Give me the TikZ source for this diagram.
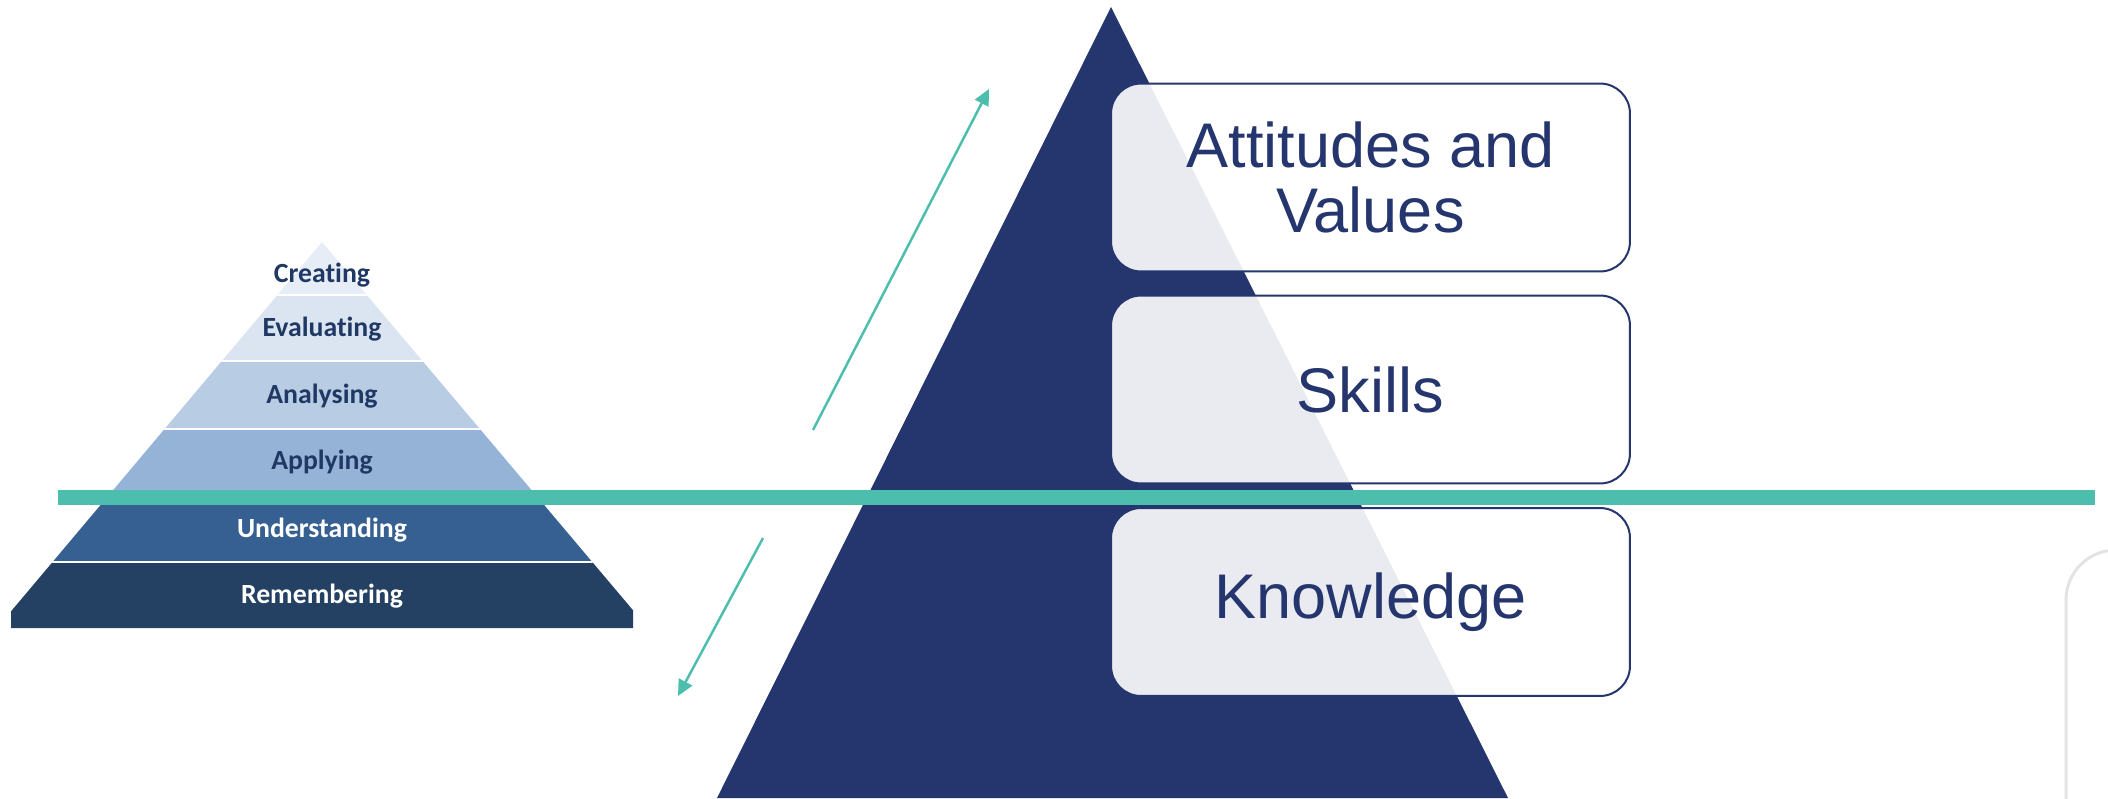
\documentclass[tikz,border=0pt]{standalone}
\usepackage{fontspec}
\setmainfont{Liberation Sans}
\newfontfamily\bloomfont[Ligatures=CommonOff]{Carlito}
\usetikzlibrary{arrows.meta}

\definecolor{navy}{RGB}{37,53,110}
\definecolor{bandteal}{RGB}{77,190,174}
\definecolor{bloomtext}{RGB}{31,56,100}
\definecolor{bloomA}{RGB}{231,237,246}
\definecolor{bloomB}{RGB}{219,229,241}
\definecolor{bloomC}{RGB}{184,204,228}
\definecolor{bloomD}{RGB}{149,179,215}
\definecolor{bloomE}{RGB}{55,96,146}
\definecolor{bloomF}{RGB}{36,64,98}
\definecolor{framegray}{RGB}{227,227,227}

\begin{document}
\begin{tikzpicture}[
        x=0.02cm, y=-0.02cm,
        box/.style={draw=navy, line width=0.04cm, rounded corners=0.6cm,
            fill=white, fill opacity=0.9, text opacity=1, text=navy,
            minimum width=10.38cm, minimum height=3.76cm, inner sep=0pt,
            align=center, font=\fontsize{35.9}{37}\selectfont},
        level/.style={anchor=base, inner sep=0pt,
            font=\bloomfont\bfseries\fontsize{15.8}{18}\selectfont},
        flow/.style={draw=bandteal, line width=0.05cm,
            -{Triangle[length=0.32cm,width=0.3cm]}}]

    \useasboundingbox (0,0) rectangle (2108,798);
    \clip (0,0) rectangle (2108,798);

    % small pyramid
    \begin{scope}
        \clip (11,0) rectangle (633,628);
        \clip (322,242) -- (-3,628) -- (648,628) -- cycle;
        \foreach \top/\bot/\col in {230/295/bloomA, 295/361/bloomB, 361/429/bloomC,
                429/496/bloomD, 496/562/bloomE, 562/640/bloomF}
            \fill[\col] (0,\top) rectangle (650,\bot);
        \foreach \y in {295,361,429,496,562}
            \draw[white, line width=0.05cm] (0,\y) -- (650,\y);
    \end{scope}

    \node[level, text=bloomtext] (creating) at (322,282) {Creating};
    \node[level, text=bloomtext] (evaluating) at (322,336) {Evaluating};
    \node[level, text=bloomtext] (analysing) at (322,403) {Analysing};
    \node[level, text=bloomtext] (applying) at (322,469) {Applying};
    \node[level, text=white] (understanding) at (322,537) {Understanding};
    \node[level, text=white] (remembering) at (322,603) {Remembering};

    % big pyramid
    \fill[navy] (1111,7) -- (717,798) -- (1508,798) -- cycle;

    \fill[bandteal] (58,490) rectangle (2095,505);

    \node[box] (attitudes) at (1370.5,177.5) {Attitudes and\\Values};
    \node[box] (skills) at (1370.5,389.5) {Skills};
    \node[box] (knowledge) at (1370.5,602) {\raisebox{-0.1cm}{Knowledge}};

    \coordinate (up0) at (813,430);
    \coordinate (up1) at (989,89);
    \coordinate (down0) at (763,538);
    \coordinate (down1) at (678,696);
    \draw[flow] (up0) -- (up1);
    \draw[flow] (down0) -- (down1);

    % next slide frame, cut off
    \draw[framegray, line width=0.06cm, rounded corners=1cm] (2066,820) |- (2170,550);
\end{tikzpicture}
\end{document}
